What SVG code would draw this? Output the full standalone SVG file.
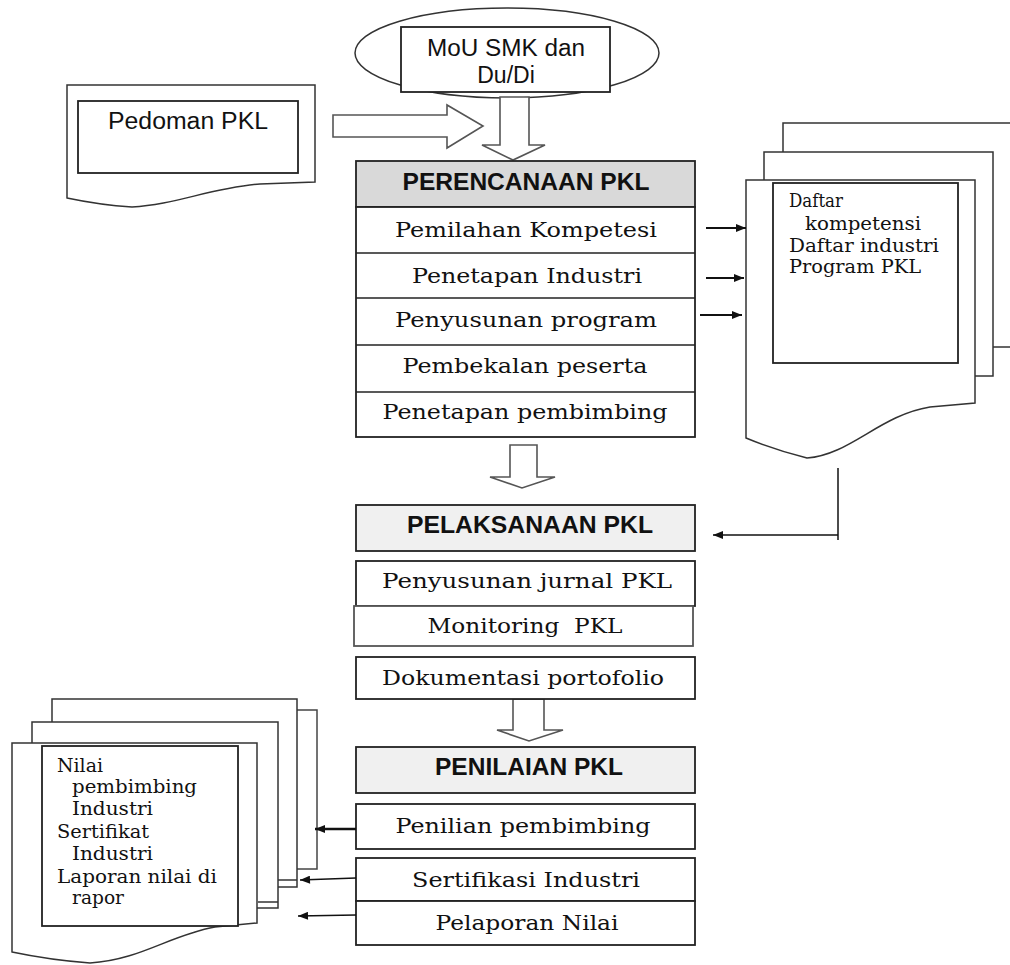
<svg xmlns="http://www.w3.org/2000/svg" width="1010" height="965" viewBox="0 0 1010 965">
<defs>
<style>
.box{fill:#fff;stroke:#222;stroke-width:1.8}
.doc{fill:#fff;stroke:#333;stroke-width:1.5}
.blk{fill:#fff;stroke:#555;stroke-width:1.6}
.sans{font-family:"Liberation Sans",Arial,sans-serif;fill:#111}
.bold{font-family:"Liberation Sans",Arial,sans-serif;font-weight:bold;font-size:23px;fill:#111}
.serif{font-family:"DejaVu Serif","Liberation Serif",serif;font-size:21px;fill:#111}
.small{font-family:"DejaVu Serif","Liberation Serif",serif;font-size:18px;fill:#111}
.con{fill:none;stroke:#111}
</style>
<marker id="ah" viewBox="0 0 10 8" refX="10" refY="4" markerWidth="11" markerHeight="8" markerUnits="userSpaceOnUse" orient="auto">
<path d="M0,0 L10,4 L0,8 Z" fill="#111"/>
</marker>
</defs>
<rect width="1010" height="965" fill="#fff"/>

<g id="mou">
<ellipse cx="507" cy="53" rx="152" ry="45" class="doc" fill="#fff"/>
<rect x="401" y="27" width="209" height="65" class="box"/>
<text class="sans" font-size="23" x="506" y="56" text-anchor="middle" textLength="158" lengthAdjust="spacingAndGlyphs">MoU SMK dan</text>
<text class="sans" font-size="23" x="506" y="83" text-anchor="middle">Du/Di</text>
</g>

<g id="pedoman">
<path class="doc" d="M67,85 L315,85 L315,182 L260,184 C210,188 175,205 132,207 Q100,205 67,198 Z"/>
<rect x="78" y="101" width="220" height="72" class="box" stroke-width="1.5"/>
<text class="sans" font-size="23" x="188" y="129" text-anchor="middle" textLength="160" lengthAdjust="spacingAndGlyphs">Pedoman PKL</text>
</g>

<g id="block-arrows">
<path class="blk" d="M333,115 L447,115 L447,105 L483,126 L447,148 L447,137 L333,137 Z"/>
<path class="blk" d="M500,97 L529,97 L529,145 L545,145 L513,160 L482,145 L500,145 Z"/>
<path class="blk" d="M510,445 L537,445 L537,477 L555,477 L522,488 L490,477 L510,477 Z"/>
<path class="blk" d="M513,699 L544,699 L544,730 L563,730 L529,741 L497,730 L513,730 Z"/>
</g>

<g id="perencanaan">
<rect x="356" y="161" width="339" height="46" class="box" style="fill:#d9d9d9"/>
<text class="bold" x="526" y="190" text-anchor="middle" textLength="247" lengthAdjust="spacingAndGlyphs">PERENCANAAN PKL</text>
<rect x="356" y="207" width="339" height="230" class="box"/>
<line x1="356" y1="253" x2="695" y2="253" stroke="#222" stroke-width="1.6"/>
<line x1="356" y1="298" x2="695" y2="298" stroke="#222" stroke-width="1.6"/>
<line x1="356" y1="345" x2="695" y2="345" stroke="#222" stroke-width="1.6"/>
<line x1="356" y1="392" x2="695" y2="392" stroke="#222" stroke-width="1.6"/>
<text class="serif" x="526" y="237" text-anchor="middle" textLength="262" lengthAdjust="spacingAndGlyphs">Pemilahan Kompetesi</text>
<text class="serif" x="527" y="283" text-anchor="middle" textLength="230" lengthAdjust="spacingAndGlyphs">Penetapan Industri</text>
<text class="serif" x="526" y="327" text-anchor="middle" textLength="262" lengthAdjust="spacingAndGlyphs">Penyusunan program</text>
<text class="serif" x="525" y="373" text-anchor="middle" textLength="245" lengthAdjust="spacingAndGlyphs">Pembekalan peserta</text>
<text class="serif" x="525" y="419" text-anchor="middle" textLength="285" lengthAdjust="spacingAndGlyphs">Penetapan pembimbing</text>
</g>

<g id="doc-right">
<rect x="783" y="123" width="240" height="224" class="doc"/>
<rect x="764" y="152" width="229" height="224" class="doc"/>
<path class="doc" d="M746,180 L975,180 L975,403 L930,407 C880,415 850,455 807,458 Q775,450 746,438 Z"/>
<rect x="773" y="183" width="185" height="180" class="box" stroke-width="1.5"/>
<text class="small" x="789" y="207" textLength="54" lengthAdjust="spacingAndGlyphs">Daftar</text>
<text class="small" x="805" y="230" textLength="116" lengthAdjust="spacingAndGlyphs">kompetensi</text>
<text class="small" x="789" y="252" textLength="150" lengthAdjust="spacingAndGlyphs">Daftar industri</text>
<text class="small" x="789" y="273" textLength="132" lengthAdjust="spacingAndGlyphs">Program PKL</text>
</g>

<g id="pelaksanaan">
<rect x="356" y="505" width="339" height="46" class="box" style="fill:#f0f0f0"/>
<text class="bold" x="530" y="533" text-anchor="middle" textLength="246" lengthAdjust="spacingAndGlyphs">PELAKSANAAN PKL</text>
</g>
<g id="jurnal">
<rect x="356" y="561" width="339" height="45" class="box"/>
<text class="serif" x="527" y="588" text-anchor="middle" textLength="290" lengthAdjust="spacingAndGlyphs">Penyusunan jurnal PKL</text>
</g>
<g id="monitoring">
<rect x="354" y="606" width="339" height="40" class="box" style="stroke:#555"/>
<text class="serif" x="525" y="633" text-anchor="middle" textLength="195" lengthAdjust="spacingAndGlyphs" style="white-space:pre">Monitoring  PKL</text>
</g>
<g id="dokumentasi">
<rect x="356" y="657" width="339" height="42" class="box"/>
<text class="serif" x="523" y="685" text-anchor="middle" textLength="282" lengthAdjust="spacingAndGlyphs">Dokumentasi portofolio</text>
</g>

<g id="penilaian">
<rect x="356" y="747" width="339" height="46" class="box" style="fill:#f0f0f0"/>
<text class="bold" x="529" y="775" text-anchor="middle" textLength="188" lengthAdjust="spacingAndGlyphs">PENILAIAN PKL</text>
</g>
<g id="penilian">
<rect x="356" y="804" width="339" height="45" class="box"/>
<text class="serif" x="523" y="833" text-anchor="middle" textLength="255" lengthAdjust="spacingAndGlyphs">Penilian pembimbing</text>
</g>
<g id="sertifikasi">
<rect x="356" y="858" width="339" height="43" class="box"/>
<text class="serif" x="526" y="887" text-anchor="middle" textLength="228" lengthAdjust="spacingAndGlyphs">Sertifikasi Industri</text>
</g>
<g id="pelaporan">
<rect x="356" y="901" width="339" height="44" class="box"/>
<text class="serif" x="527" y="930" text-anchor="middle" textLength="183" lengthAdjust="spacingAndGlyphs">Pelaporan Nilai</text>
</g>

<g id="doc-left">
<rect x="120" y="710" width="197" height="159" class="doc" style="stroke:#444"/>
<rect x="52" y="699" width="245" height="188" class="doc"/>
<line x1="278" y1="880" x2="297" y2="880" stroke="#333" stroke-width="1.5"/>
<rect x="32" y="722" width="246" height="186" class="doc"/>
<line x1="258" y1="902" x2="278" y2="902" stroke="#333" stroke-width="1.5"/>
<path class="doc" d="M12,743 L257,743 L257,923 L215,927 C170,935 140,960 90,963 Q50,960 12,952 Z"/>
<rect x="42" y="746" width="196" height="180" class="box" stroke-width="1.5"/>
<text class="small" x="57" y="772" textLength="46" lengthAdjust="spacingAndGlyphs">Nilai</text>
<text class="small" x="72" y="793" textLength="125" lengthAdjust="spacingAndGlyphs">pembimbing</text>
<text class="small" x="72" y="815" textLength="81" lengthAdjust="spacingAndGlyphs">Industri</text>
<text class="small" x="57" y="838" textLength="92" lengthAdjust="spacingAndGlyphs">Sertifikat</text>
<text class="small" x="72" y="860" textLength="81" lengthAdjust="spacingAndGlyphs">Industri</text>
<text class="small" x="57" y="883" textLength="160" lengthAdjust="spacingAndGlyphs">Laporan nilai di</text>
<text class="small" x="72" y="904" textLength="52" lengthAdjust="spacingAndGlyphs">rapor</text>
</g>

<g id="connectors">
<line class="con" x1="706" y1="228" x2="746" y2="228" stroke-width="2" marker-end="url(#ah)"/>
<line class="con" x1="706" y1="278" x2="744" y2="278" stroke-width="2" marker-end="url(#ah)"/>
<line class="con" x1="700" y1="315" x2="742" y2="315" stroke-width="2" marker-end="url(#ah)"/>
<polyline class="con" points="838,468 838,540" stroke-width="1.5"/>
<line class="con" x1="838" y1="535" x2="713" y2="535" stroke-width="1.5" marker-end="url(#ah)"/>
<line class="con" x1="356" y1="829" x2="315" y2="829" stroke-width="2.5" marker-end="url(#ah)"/>
<line class="con" x1="356" y1="878" x2="300" y2="880" stroke-width="1.5" stroke="#333" marker-end="url(#ah)"/>
<line class="con" x1="356" y1="915" x2="298" y2="916" stroke-width="1.5" stroke="#333" marker-end="url(#ah)"/>
</g>
</svg>
